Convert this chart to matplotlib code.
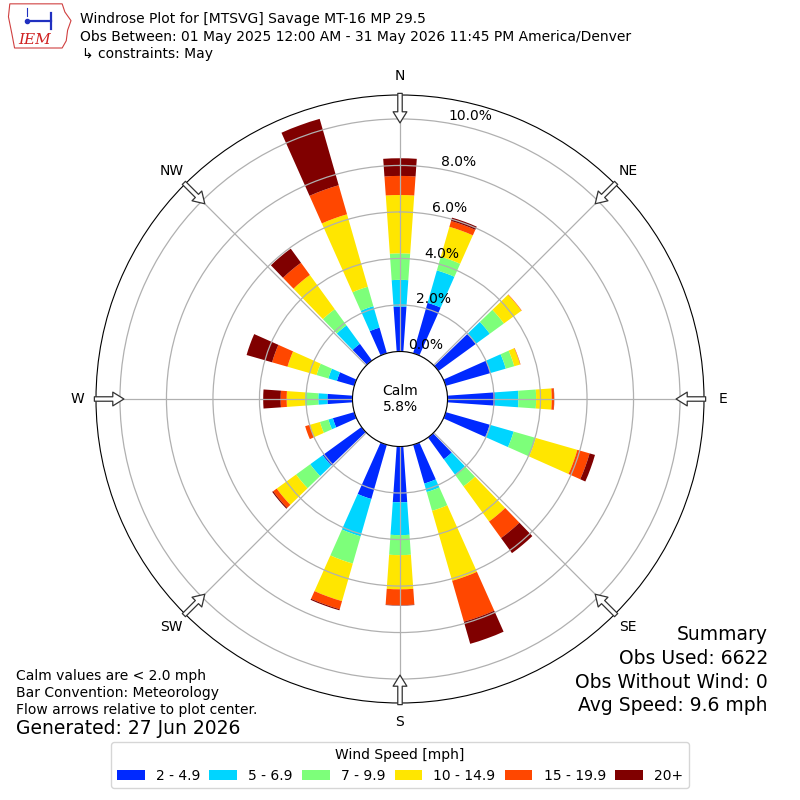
import numpy as np
import matplotlib
matplotlib.use("Agg")
import matplotlib.pyplot as plt
from matplotlib.patches import Polygon

# direction of each bar (deg, meteorological) and percent of obs per speed bin
directions = [0, 20, 50, 70, 90, 110, 140, 160, 180, 200, 230, 250, 270, 290, 320, 340]
speed_labels = ["2 - 4.9", "5 - 6.9", "7 - 9.9", "10 - 14.9", "15 - 19.9", "20+"]
pct_2_5 = [1.93, 2.26, 1.98, 2.00, 2.04, 1.97, 1.16, 1.74, 2.40, 2.43, 2.07, 0.96, 1.08, 0.78, 0.89, 1.15]
pct_5_7 = [1.15, 1.45, 0.75, 0.69, 1.01, 1.07, 0.82, 0.38, 1.41, 1.67, 0.66, 0.20, 0.39, 0.38, 0.98, 0.96]
pct_7_10 = [1.14, 0.61, 0.75, 0.38, 0.76, 0.99, 0.62, 0.84, 0.86, 1.22, 0.75, 0.38, 0.57, 0.53, 0.86, 0.87]
pct_10_15 = [2.51, 1.34, 0.93, 0.26, 0.67, 1.86, 1.87, 3.13, 1.47, 1.68, 1.03, 0.46, 0.79, 1.30, 1.82, 3.24]
pct_15_20 = [0.82, 0.26, 0.02, 0.02, 0.10, 0.55, 0.88, 1.83, 0.68, 0.36, 0.19, 0.20, 0.26, 0.69, 0.65, 1.30]
pct_20p = [0.76, 0.15, 0.00, 0.00, 0.01, 0.24, 0.80, 0.99, 0.02, 0.05, 0.05, 0.00, 0.75, 1.14, 0.75, 2.97]
calm_pct = 5.8
ring_values = [0, 2, 4, 6, 8, 10]
compass = ["N", "NE", "E", "SE", "S", "SW", "W", "NW"]

speed_bins = [pct_2_5, pct_5_7, pct_7_10, pct_10_15, pct_15_20, pct_20p]
colors = plt.get_cmap("jet")(np.linspace(0, 1, 7)[1:])

fig = plt.figure(figsize=(8, 8), dpi=100)
ax = fig.add_axes([0.12, 0.12125, 0.76, 0.76], projection="polar")
ax.set_theta_zero_location("N")
ax.set_theta_direction(-1)

theta = np.radians(directions)
base = np.zeros(len(directions))
for vals, col, lab in zip(speed_bins, colors, speed_labels):
    vals = np.array(vals)
    ax.bar(theta, vals, width=np.radians(8), bottom=base, color=col,
           linewidth=0, label=lab)
    base += vals

ax.set_rlim(0, 11.03)
ax.set_rorigin(-2.043)
ax.set_rgrids(ring_values)
ax.set_yticklabels([])
for r in ring_values:
    ax.text(np.radians(10), r, "%.1f%%" % r, ha="left", va="bottom", fontsize=10)

ax.set_xticks(np.radians(np.arange(0, 360, 45)))
ax.set_xticklabels(compass, fontsize=10)
ax.tick_params(axis="x", pad=3)
ax.grid(True, color="#b0b0b0", lw=0.9)

# inward flow arrows at the compass points
for ang in range(0, 360, 45):
    ax.annotate("", xy=(np.radians(ang), 9.83), xytext=(np.radians(ang), 11.1),
                arrowprops=dict(arrowstyle="simple,head_length=0.5,head_width=0.62,tail_width=0.2",
                                mutation_scale=16, fc="white", ec="#333333", lw=0.9,
                                shrinkA=0, shrinkB=0),
                annotation_clip=False)

ax.text(0.5, 0.5, "Calm\n%.1f%%" % calm_pct, transform=ax.transAxes,
        ha="center", va="center", fontsize=10)

# header
fig.text(0.1, 1 - 19 / 800, "Windrose Plot for [MTSVG] Savage MT-16 MP 29.5", fontsize=10, va="center")
fig.text(0.1, 1 - 37 / 800, "Obs Between: 01 May 2025 12:00 AM - 31 May 2026 11:45 PM America/Denver",
         fontsize=10, va="center")
fig.text(0.103, 1 - 54 / 800, "\u21b3 constraints: May", fontsize=10, va="center")

# IEM logo (rough)
lax = fig.add_axes([0.008, 0.937, 0.085, 0.06])
lax.set_xlim(0, 1)
lax.set_ylim(0, 1)
lax.axis("off")
lax.add_patch(Polygon([(0.05, 0.97), (0.82, 0.97), (0.86, 0.8), (0.95, 0.62), (0.9, 0.42),
                       (0.88, 0.2), (0.82, 0.05), (0.12, 0.05), (0.08, 0.35), (0.03, 0.7)],
                      closed=True, fc="none", ec="#d04040", lw=0.8))
lax.text(0.42, 0.22, "IEM", color="#d02020", fontsize=11, family="serif", style="italic",
         ha="center", va="center")
lax.plot([0.3, 0.65], [0.62, 0.62], color="#2030c0", lw=1.6)
lax.plot([0.65, 0.65], [0.45, 0.78], color="#2030c0", lw=1.6)
lax.plot([0.3], [0.62], "o", color="#2030c0", ms=3)
lax.plot([0.3, 0.3], [0.72, 0.88], color="#2030c0", lw=0.8)

# footer notes
fig.text(16 / 800, 1 - 676 / 800, "Calm values are < 2.0 mph", fontsize=10, va="center")
fig.text(16 / 800, 1 - 693 / 800, "Bar Convention: Meteorology", fontsize=10, va="center")
fig.text(16 / 800, 1 - 710 / 800, "Flow arrows relative to plot center.", fontsize=10, va="center")
fig.text(16 / 800, 1 - 728 / 800, "Generated: 27 Jun 2026", fontsize=13.5, va="center")

summary = ["Summary", "Obs Used: 6622", "Obs Without Wind: 0", "Avg Speed: 9.6 mph"]
for i, line in enumerate(summary):
    fig.text(768 / 800, 1 - (635 + 23.6 * i) / 800, line, fontsize=13.5, ha="right", va="center")

handles, labels = ax.get_legend_handles_labels()
fig.legend(handles, labels, loc="lower center", bbox_to_anchor=(0.5, 5 / 800), ncol=6,
           title="Wind Speed [mph]", fontsize=10, title_fontsize=10, columnspacing=0.66)

fig.savefig("out.png", dpi=100)
